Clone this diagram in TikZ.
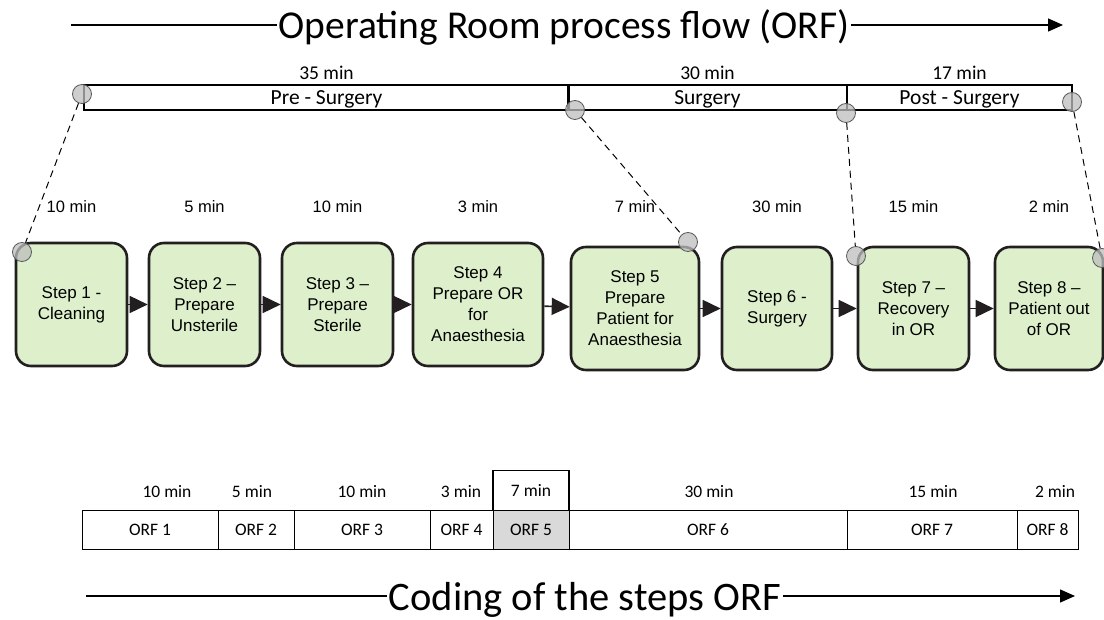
\documentclass[tikz,border=0pt]{standalone}
\usepackage{fontspec}
\usepackage{tikz}
\usetikzlibrary{arrows.meta}
\setmainfont{Carlito}
\newfontfamily\arialfont{Liberation Sans}
\definecolor{boxfill}{RGB}{221,240,203}
\definecolor{boxline}{RGB}{35,31,32}
\definecolor{jointfill}{RGB}{190,190,190}
\definecolor{orfgrey}{RGB}{217,217,217}

\begin{document}
\begin{tikzpicture}[x=1pt, y=-1pt,
        stepbox/.style={draw=boxline, line width=2.6pt, fill=boxfill, rounded corners=15pt, minimum height=123pt, inner sep=0pt, align=center, font=\arialfont\fontsize{17}{21}\selectfont},
        steptime/.style={text height=12pt, text depth=0pt, font=\arialfont\fontsize{16.5}{20}\selectfont},
        phase/.style={draw, line width=1.2pt, minimum height=25pt, inner sep=0pt, text height=13.5pt, text depth=0pt, font=\fontsize{21.5}{25}\selectfont},
        phasetime/.style={text height=12.5pt, text depth=0pt, font=\fontsize{19.5}{23}\selectfont},
        orf/.style={draw, line width=1pt, minimum height=38.5pt, inner sep=0pt, text height=11.5pt, text depth=0pt, font=\fontsize{17.5}{21}\selectfont},
        orftime/.style={text height=11.5pt, text depth=0pt, font=\fontsize{17.5}{21}\selectfont},
        joint/.style={circle, draw=black!65, line width=0.8pt, fill=jointfill, fill opacity=0.75, minimum size=19pt, inner sep=0pt},
        link/.style={dash pattern=on 7pt off 5pt, line width=1pt},
        flow/.style={-{Triangle[length=18pt, width=17pt]}, line width=1.6pt, draw=boxline},
        heading/.style={font=\fontsize{39.5}{44}\selectfont, text height=28pt, text depth=0pt, inner xsep=2pt, inner ysep=0pt},
        headline/.style={-{Triangle[length=15pt, width=13pt]}, line width=1.3pt}]
        \useasboundingbox (0,0) rectangle (1104,620);

        \node[heading] (toptitle) at (564,25) {Operating Room process flow (ORF)};
        \coordinate (topstart) at (71,25);
        \coordinate (topend) at (1063,25);
        \draw[line width=1.3pt] (topstart) -- (toptitle.west);
        \draw[headline] (toptitle.east) -- (topend);

        \node[phase, minimum width=485pt] (pre) at (326.5,97.5) {Pre - Surgery};
        \node[phase, minimum width=279pt] (surg) at (707.5,97.5) {Surgery};
        \node[phase, minimum width=225pt] (post) at (959.5,97.5) {Post - Surgery};
        \node[phasetime] (pretime) at (326.5,73.5) {35 min};
        \node[phasetime] (surgtime) at (707.5,73.5) {30 min};
        \node[phasetime] (posttime) at (959.5,73.5) {17 min};

        \node[steptime] (t1) at (71.5,207) {10 min};
        \node[steptime] (t2) at (204.5,207) {5 min};
        \node[steptime] (t3) at (337.5,207) {10 min};
        \node[steptime] (t4) at (478,207) {3 min};
        \node[steptime] (t5) at (635,207) {7 min};
        \node[steptime] (t6) at (777,207) {30 min};
        \node[steptime] (t7) at (913.5,207) {15 min};
        \node[steptime] (t8) at (1049,207) {2 min};

        \node[stepbox, minimum width=111pt] (s1) at (71.5,304.5) {Step 1 -\\Cleaning};
        \node[stepbox, minimum width=111pt] (s2) at (204.5,304.5) {Step 2 –\\Prepare\\Unsterile};
        \node[stepbox, minimum width=111pt] (s3) at (337.5,304.5) {Step 3 –\\Prepare\\Sterile};
        \node[stepbox, minimum width=130pt] (s4) at (478,304.5) {Step 4\\Prepare OR\\for\\Anaesthesia};
        \node[stepbox, minimum width=128pt] (s5) at (635,308.5) {Step 5\\Prepare\\Patient for\\Anaesthesia};
        \node[stepbox, minimum width=110pt] (s6) at (777,308.5) {Step 6 -\\Surgery};
        \node[stepbox, minimum width=111pt] (s7) at (913.5,308.5) {Step 7 –\\Recovery\\in OR};
        \node[stepbox, minimum width=108pt] (s8) at (1049,308.5) {Step 8 –\\Patient out\\of OR};

        \draw[flow] (s1) -- (s2);
        \draw[flow] (s2) -- (s3);
        \draw[flow] (s3) -- (s4);
        \draw[flow] (s4) -- (s5);
        \draw[flow] (s5) -- (s6);
        \draw[flow] (s6) -- (s7);
        \draw[flow] (s7) -- (s8);

        \node[joint] (c1) at (82,94) {};
        \node[joint] (c2) at (575,110) {};
        \node[joint] (c3) at (846,113) {};
        \node[joint] (c4) at (1072,102) {};
        \node[joint] (d1) at (22,252) {};
        \node[joint] (d2) at (688,242) {};
        \node[joint] (d3) at (856,256) {};
        \node[joint] (d4) at (1102,258) {};
        \draw[link] (c1) -- (d1);
        \draw[link] (c2) -- (d2);
        \draw[link] (c3) -- (d3);
        \draw[link] (c4) -- (d4);

        \node[orftime] (o1time) at (167,492) {10 min};
        \node[orftime] (o2time) at (252,492) {5 min};
        \node[orftime] (o3time) at (362,492) {10 min};
        \node[orftime] (o4time) at (461,492) {3 min};
        \node[orftime, draw, line width=1.2pt, minimum width=76pt, minimum height=40.5pt, inner sep=0pt] (o5time) at (531,490.5) {7 min};
        \node[orftime] (o6time) at (709,492) {30 min};
        \node[orftime] (o7time) at (933,492) {15 min};
        \node[orftime] (o8time) at (1055,492) {2 min};

        \node[orf, minimum width=136pt] (o1) at (150,530) {ORF 1};
        \node[orf, minimum width=76pt] (o2) at (256,530) {ORF 2};
        \node[orf, minimum width=136pt] (o3) at (362,530) {ORF 3};
        \node[orf, minimum width=63pt] (o4) at (461.5,530) {ORF 4};
        \node[orf, minimum width=76pt, fill=orfgrey] (o5) at (531,530) {ORF 5};
        \node[orf, minimum width=278pt] (o6) at (708,530) {ORF 6};
        \node[orf, minimum width=170pt] (o7) at (932,530) {ORF 7};
        \node[orf, minimum width=61pt] (o8) at (1047.5,530) {ORF 8};

        \node[heading, font=\fontsize{40.5}{45}\selectfont] (bottitle) at (585,596) {Coding of the steps ORF};
        \coordinate (botstart) at (86,596);
        \coordinate (botend) at (1075,596);
        \draw[line width=1.3pt] (botstart) -- (bottitle.west);
        \draw[headline] (bottitle.east) -- (botend);
\end{tikzpicture}
\end{document}
